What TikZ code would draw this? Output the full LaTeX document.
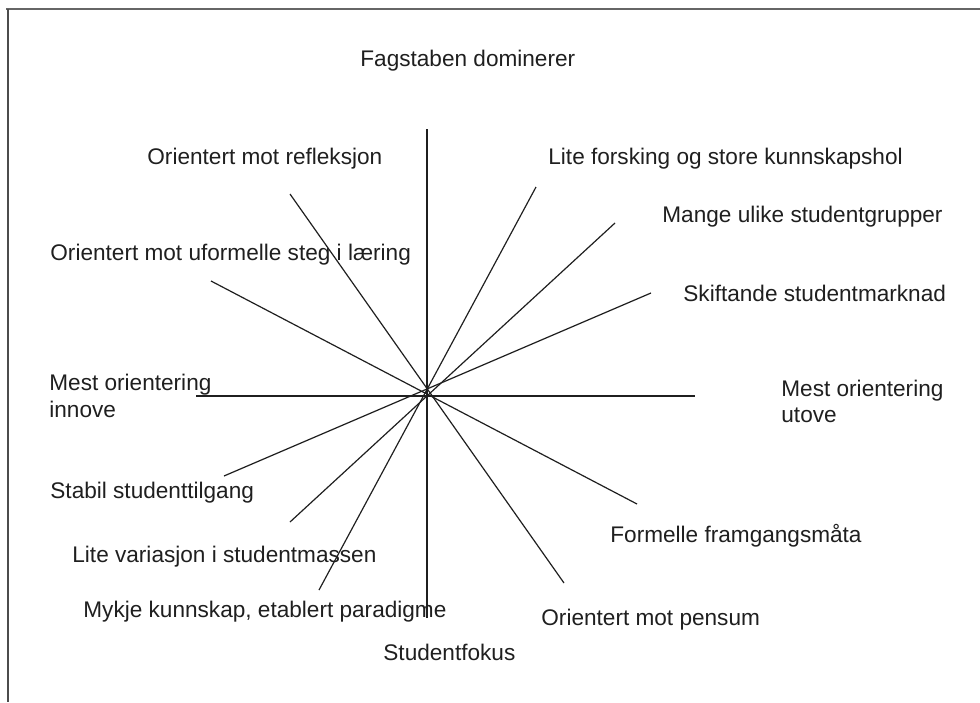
\documentclass[tikz,border=0pt]{standalone}
\usepackage{fontspec}
\setmainfont{Liberation Sans}
\begin{document}
\begin{tikzpicture}[x=0.5pt,y=-0.5pt,
  lbl/.style={anchor=base west,inner sep=0pt,text=black!88,font=\fontsize{11.3}{13.5}\selectfont,align=left},
  ray/.style={draw=black!88,line width=0.6pt},
  frame/.style={draw=black!60,line width=0.9pt}]
\useasboundingbox (0,0) rectangle (980,702);
% frame (cropped)
\draw[frame] (6,9) -- (980,9);
\draw[draw=black!70,line width=0.6pt] (8,9) -- (8,702);
% endpoints
\coordinate (vt) at (427,129); \coordinate (vb) at (427,618);
\coordinate (hl) at (196,396); \coordinate (hr) at (695,396);
\coordinate (a1) at (290,194); \coordinate (a2) at (564,583);
\coordinate (b1) at (211,281); \coordinate (b2) at (637,504);
\coordinate (c1) at (536,187); \coordinate (c2) at (319,590);
\coordinate (d1) at (615,223); \coordinate (d2) at (290,522);
\coordinate (e1) at (651,293); \coordinate (e2) at (224,476);
\draw[ray] (vt) -- (vb);
\draw[ray] (hl) -- (hr);
\draw[ray] (a1) -- (a2);
\draw[ray] (b1) -- (b2);
\draw[ray] (c1) -- (c2);
\draw[ray] (d1) -- (d2);
\draw[ray] (e1) -- (e2);
% labels
\node[lbl] (top) at (360,66) {Fagstaben dominerer};
\node[lbl] (refl) at (147,164) {Orientert mot refleksjon};
\node[lbl] (lite) at (548,164) {Lite forsking og store kunnskapshol};
\node[lbl] (mange) at (662,222) {Mange ulike studentgrupper};
\node[lbl] (ufor) at (50,260) {Orientert mot uformelle steg i læring};
\node[lbl] (skift) at (683,301) {Skiftande studentmarknad};
\node[lbl] (inn) at (49,390) {Mest orientering};
\node[lbl] (inn2) at (49,417) {innove};
\node[lbl] (ut) at (781,396) {Mest orientering};
\node[lbl] (ut2) at (781,422) {utove};
\node[lbl] (stab) at (50,498) {Stabil studenttilgang};
\node[lbl] (form) at (610,542) {Formelle framgangsmåta};
\node[lbl] (var) at (72,562) {Lite variasjon i studentmassen};
\node[lbl] (mykje) at (83,617) {Mykje kunnskap, etablert paradigme};
\node[lbl] (pens) at (541,625) {Orientert mot pensum};
\node[lbl] (stud) at (383,660) {Studentfokus};
\end{tikzpicture}
\end{document}
